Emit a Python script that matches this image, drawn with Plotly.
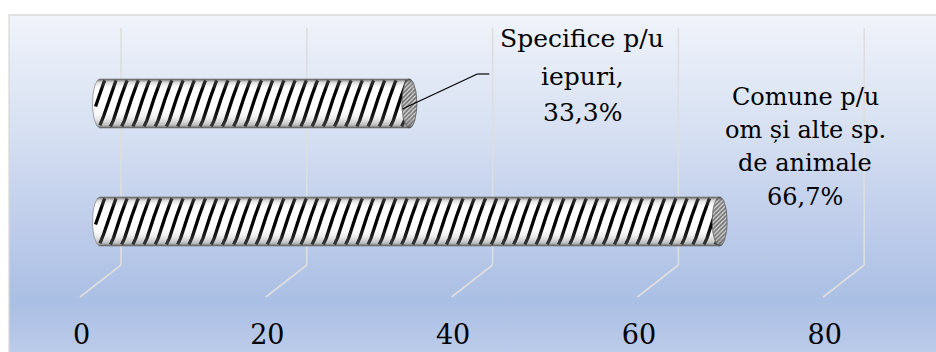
import base64
import numpy as np
import plotly.graph_objects as go

# ---- data -------------------------------------------------------------
categories = ["Comune p/u om și alte sp. de animale", "Specifice p/u iepuri"]
values = [66.7, 33.3]
label_lines = [["Comune p/u", "om și alte sp.", "de animale"],
               ["Specifice p/u", "iepuri,"]]
tick_values = [0, 20, 40, 60, 80]
tick_labels = ["0", "20", "40", "60", "80"]

# ---- geometry / style ---------------------------------------------------
W, H = 936, 352
X_RANGE = [-10.764, 89.99]          # mid-depth value axis
Y_RANGE = [-1.106, 1.877]           # category index axis
PX_X = W / (X_RANGE[1] - X_RANGE[0])
PX_Y = H / (Y_RANGE[1] - Y_RANGE[0])
BAR_W = 0.415                        # bar thickness in category units
R_PX = BAR_W * PX_Y / 2              # cylinder radius, px
CAP_RX = 7.5                         # end-cap ellipse half width, px
FRONT_SHIFT = 18.5                   # front plane offset (px, to the left)
BACK_SHIFT = 21                      # back wall offset (px, to the right)
STRIPE_PERIOD = 11.2
STRIPE_SLANT = 4.6
STRIPE_WIDTH = 3.3
SERIF = "DejaVu Serif"
GRID = "rgba(222,222,222,1)"


def to_x(px):
    return px / PX_X


def to_y(idx, px):
    return idx + px / PX_Y


fig = go.Figure()

# bars (cylinder bodies)
ypos = list(range(len(categories)))
fig.add_trace(go.Bar(
    x=values, y=ypos, orientation="h", width=BAR_W, base=0,
    marker=dict(color="white", line=dict(width=0)),
    customdata=categories, hovertemplate="%{customdata}: %{x}%<extra></extra>",
    showlegend=False,
))

shade_scale = [
    [0.00, "rgba(60,60,60,0.85)"],
    [0.06, "rgba(110,110,110,0.45)"],
    [0.22, "rgba(160,160,160,0.15)"],
    [0.42, "rgba(255,255,255,0)"],
    [0.78, "rgba(255,255,255,0)"],
    [0.93, "rgba(130,130,130,0.30)"],
    [1.00, "rgba(60,60,60,0.85)"],
]

for idx, v in zip(ypos, values):
    vpx = v * PX_X
    # rounded left end
    th = np.linspace(np.pi / 2, 3 * np.pi / 2, 40)
    lx = CAP_RX * np.cos(th)
    ly = R_PX * np.sin(th)
    fig.add_trace(go.Scatter(
        x=to_x(np.r_[lx, 0]), y=to_y(idx, np.r_[ly, R_PX]),
        fill="toself", fillcolor="white", mode="none",
        hoverinfo="skip", showlegend=False))

    # helical stripes
    thm = np.arcsin(0.94)
    t = np.linspace(-thm, thm, 41)
    sx, sy = [], []
    x0 = -CAP_RX - STRIPE_SLANT * np.pi / 2 - STRIPE_PERIOD
    while x0 < vpx + STRIPE_SLANT * np.pi / 2:
        xp = x0 + STRIPE_SLANT * t + 3.0 * np.sin(t)
        yp = R_PX * np.sin(t)
        left = -CAP_RX * np.cos(t)
        ok = (xp >= left + 2.6) & (xp <= vpx)
        run = False
        for k in range(len(t)):
            if ok[k]:
                sx.append(to_x(xp[k]))
                sy.append(to_y(idx, yp[k]))
                run = True
            elif run:
                sx.append(None)
                sy.append(None)
                run = False
        if run:
            sx.append(None)
            sy.append(None)
        x0 += STRIPE_PERIOD
    fig.add_trace(go.Scatter(
        x=sx, y=sy, mode="lines",
        line=dict(color="black", width=STRIPE_WIDTH),
        hoverinfo="skip", showlegend=False))

    # cylinder shading overlay
    bx = np.r_[lx, vpx, vpx, lx[0]]
    by = np.r_[ly, -R_PX, R_PX, ly[0]]
    fig.add_trace(go.Scatter(
        x=to_x(bx), y=to_y(idx, by), fill="toself", mode="lines",
        line=dict(color="rgba(110,110,110,0.6)", width=1),
        fillgradient=dict(type="vertical", colorscale=shade_scale),
        hoverinfo="skip", showlegend=False))

    # right end cap
    th2 = np.linspace(0, 2 * np.pi, 60)
    cx = vpx + CAP_RX * np.cos(th2)
    cy = R_PX * np.sin(th2)
    fig.add_trace(go.Scatter(
        x=to_x(cx), y=to_y(idx, cy), fill="toself", mode="lines",
        line=dict(color="rgba(90,90,90,0.8)", width=1),
        fillpattern=dict(shape="/", fgcolor="#000000", bgcolor="#dadada",
                         size=3, solidity=0.55),
        hoverinfo="skip", showlegend=False))
    fig.add_trace(go.Scatter(
        x=to_x(cx), y=to_y(idx, cy), fill="toself", mode="none",
        fillgradient=dict(type="vertical", colorscale=shade_scale),
        hoverinfo="skip", showlegend=False))

# front-plane axis carrying the tick labels
fig.add_trace(go.Scatter(
    x=tick_values, y=[Y_RANGE[0] - 1] * len(tick_values), xaxis="x2",
    mode="markers", marker=dict(opacity=0), hoverinfo="skip", showlegend=False))

# ---- background, walls and gridlines ------------------------------------
svg = (
    '<svg xmlns="http://www.w3.org/2000/svg" width="10" height="100" '
    'viewBox="0 0 10 100" preserveAspectRatio="none">'
    '<defs><linearGradient id="g" x1="0" y1="0" x2="0" y2="1">'
    '<stop offset="0" stop-color="#f0f3fa"/>'
    '<stop offset="0.35" stop-color="#d6e0f2"/>'
    '<stop offset="0.62" stop-color="#bfcdeb"/>'
    '<stop offset="0.85" stop-color="#aabfe4"/>'
    '<stop offset="1" stop-color="#bccbea"/>'
    '</linearGradient></defs>'
    '<rect width="10" height="100" fill="url(#g)"/></svg>'
)
bg_src = "data:image/svg+xml;base64," + base64.b64encode(svg.encode()).decode()

PLOT_L, PLOT_T = 9, 15
shapes = [dict(type="rect", xref="paper", yref="paper",
               x0=PLOT_L / W, x1=1.01, y0=-0.01, y1=1 - PLOT_T / H,
               line=dict(color="#d9d9d9", width=1.3), layer="below")]

GRID_TOP, GRID_FLOOR, GRID_FRONT = 28, 265, 297
for tv in tick_values:
    shapes.append(dict(type="line", xref="x", yref="paper", xsizemode="pixel",
                       xanchor=tv, x0=BACK_SHIFT, x1=BACK_SHIFT,
                       y0=1 - GRID_TOP / H, y1=1 - GRID_FLOOR / H,
                       line=dict(color=GRID, width=1.6), layer="below"))
    shapes.append(dict(type="line", xref="x", yref="paper", xsizemode="pixel",
                       xanchor=tv, x0=BACK_SHIFT, x1=-FRONT_SHIFT - 1.5,
                       y0=1 - GRID_FLOOR / H, y1=1 - GRID_FRONT / H,
                       line=dict(color=GRID, width=1.6), layer="below"))

# leader line from the short bar to its label
top_idx, top_v = 1, values[1]
leader = [(-7, -5.5, 68, 29.5), (68, 29.5, 80, 29.5)]
for ax0, ay0, ax1, ay1 in leader:
    shapes.append(dict(type="line", xref="x", yref="y", xsizemode="pixel",
                       xanchor=top_v, x0=ax0, x1=ax1,
                       y0=to_y(top_idx, ay0), y1=to_y(top_idx, ay1),
                       line=dict(color="black", width=1.2), layer="above"))

# ---- data labels ---------------------------------------------------------
def pct(v):
    return f"{v:.1f}%".replace(".", ",")


label_specs = [
    dict(cx=805, baselines=[107, 140, 173, 207], size=24),
    dict(cx=582, baselines=[49, 87, 123], size=25),
]
annotations = []
for lines, v, spec in zip(label_lines, values, label_specs):
    for text, base in zip(lines + [pct(v)], spec["baselines"]):
        annotations.append(dict(
            xref="paper", yref="paper", x=spec["cx"] / W, y=1 - base / H,
            xanchor="center", yanchor="bottom", yshift=-0.24 * spec["size"],
            text=text, showarrow=False,
            font=dict(family=SERIF, size=spec["size"], color="black")))

fig.update_layout(
    width=W, height=H, margin=dict(l=0, r=0, t=0, b=0),
    paper_bgcolor="white", plot_bgcolor="rgba(0,0,0,0)",
    bargap=0, showlegend=False,
    font=dict(family=SERIF),
    xaxis=dict(range=X_RANGE, visible=False, fixedrange=True),
    xaxis2=dict(range=[X_RANGE[0] + FRONT_SHIFT / PX_X,
                       X_RANGE[1] + FRONT_SHIFT / PX_X],
                overlaying="x", anchor="free", position=0, side="bottom",
                tickvals=tick_values, ticktext=tick_labels,
                ticklabelposition="inside", ticks="", showgrid=False,
                zeroline=False, showline=False, fixedrange=True,
                tickfont=dict(family=SERIF, size=27, color="black")),
    yaxis=dict(range=Y_RANGE, visible=False, fixedrange=True),
    shapes=shapes, annotations=annotations,
    images=[dict(source=bg_src, xref="paper", yref="paper",
                 x=PLOT_L / W, y=1 - PLOT_T / H,
                 sizex=1 - PLOT_L / W, sizey=1 - PLOT_T / H,
                 xanchor="left", yanchor="top", sizing="stretch",
                 layer="below")],
)

fig.write_html("out.html")
